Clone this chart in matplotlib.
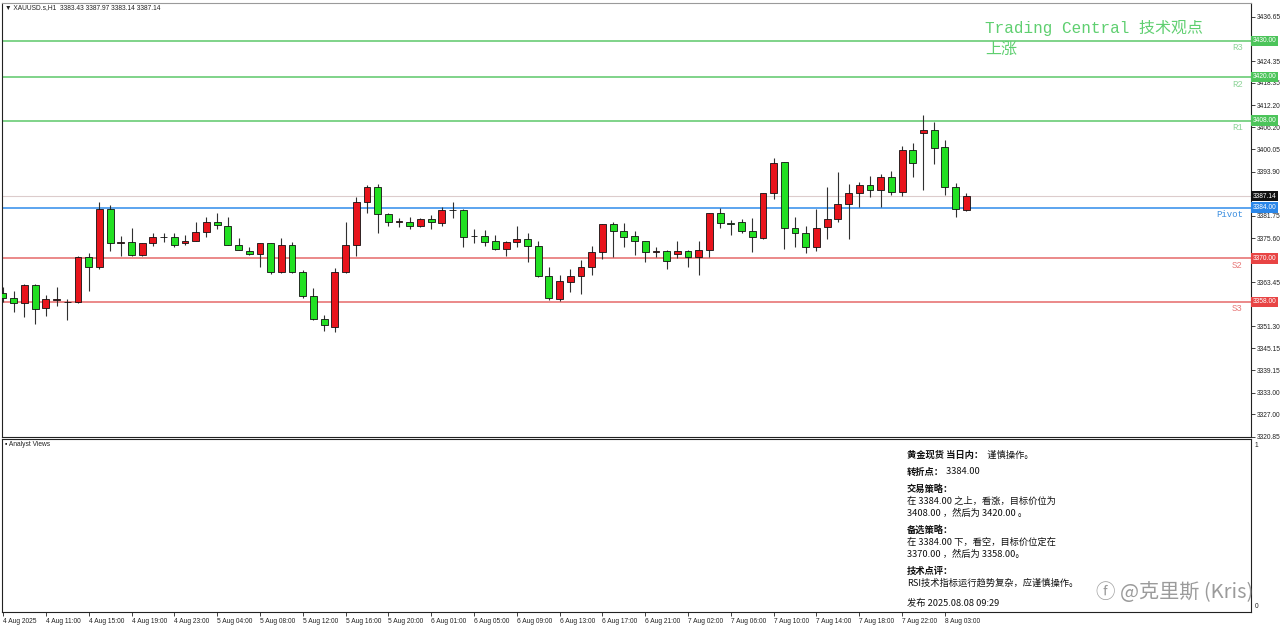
import matplotlib
matplotlib.use('Agg')
import matplotlib.pyplot as plt
import matplotlib.transforms as mtrans

# ---------------- data ----------------
opens = [3360.4, 3359.2, 3357.6, 3362.7, 3356.3, 3358.4, 3358.1, 3357.9, 3370.3, 3367.7,
         3383.6, 3374.2, 3374.5, 3371.0, 3374.2, 3375.8, 3376.0, 3374.3, 3374.9, 3377.4,
         3379.9, 3379.0, 3373.7, 3372.1, 3371.2, 3374.2, 3366.2, 3373.7, 3366.2, 3359.6,
         3353.2, 3351.2, 3366.3, 3373.7, 3385.4, 3389.6, 3382.2, 3380.1, 3380.0, 3379.0,
         3380.9, 3379.7, 3383.4, 3383.3, 3376.1, 3376.3, 3374.8, 3372.5, 3374.4, 3375.3,
         3373.5, 3365.2, 3358.7, 3363.6, 3365.0, 3367.7, 3371.7, 3379.4, 3377.6, 3376.2,
         3374.8, 3371.8, 3371.9, 3371.2, 3372.1, 3370.3, 3372.3, 3382.4, 3379.7, 3379.9,
         3377.6, 3375.7, 3388.1, 3396.5, 3378.3, 3376.9, 3373.1, 3378.6, 3380.8, 3384.9,
         3388.0, 3390.1, 3388.9, 3392.4, 3388.2, 3399.9, 3404.5, 3405.4, 3400.6, 3389.8,
         3383.43]
highs = [3362.2, 3361.1, 3363.0, 3362.9, 3359.9, 3362.0, 3358.7, 3370.7, 3371.6, 3385.6,
         3384.7, 3376.2, 3378.3, 3374.3, 3376.9, 3377.1, 3377.1, 3376.5, 3379.9, 3381.5,
         3382.4, 3381.5, 3375.6, 3373.1, 3374.3, 3374.3, 3375.6, 3374.6, 3366.8, 3361.8,
         3354.4, 3367.3, 3380.1, 3387.0, 3390.3, 3390.5, 3382.6, 3381.2, 3381.3, 3381.1,
         3382.0, 3384.1, 3385.4, 3383.6, 3378.0, 3377.8, 3376.5, 3374.8, 3378.9, 3377.1,
         3374.8, 3367.7, 3365.4, 3367.0, 3369.6, 3373.4, 3379.5, 3380.1, 3379.7, 3377.6,
         3374.9, 3373.2, 3372.3, 3374.9, 3372.2, 3374.9, 3382.5, 3384.0, 3380.6, 3380.8,
         3381.1, 3388.0, 3397.6, 3396.6, 3381.3, 3378.9, 3383.6, 3389.8, 3393.9, 3390.5,
         3391.0, 3392.7, 3393.2, 3394.1, 3401.0, 3401.9, 3409.4, 3407.5, 3402.7, 3390.9,
         3387.97]
lows = [3358.0, 3355.3, 3353.7, 3351.8, 3354.1, 3356.9, 3353.0, 3357.7, 3361.1, 3367.0,
        3372.1, 3370.7, 3370.7, 3370.7, 3373.4, 3374.6, 3373.2, 3373.7, 3374.8, 3375.8,
        3378.0, 3373.6, 3372.2, 3371.0, 3367.6, 3365.7, 3366.1, 3366.1, 3359.0, 3353.1,
        3350.0, 3349.8, 3365.9, 3370.7, 3382.4, 3377.1, 3378.9, 3378.6, 3378.1, 3378.6,
        3378.1, 3378.9, 3381.1, 3373.2, 3374.3, 3373.4, 3372.3, 3370.7, 3373.2, 3369.0,
        3364.8, 3358.5, 3358.3, 3360.8, 3360.2, 3365.4, 3369.8, 3370.3, 3373.0, 3371.0,
        3369.0, 3370.3, 3367.0, 3370.0, 3367.6, 3365.4, 3370.3, 3378.3, 3376.5, 3377.1,
        3371.7, 3375.4, 3386.3, 3372.5, 3373.2, 3371.6, 3371.9, 3375.3, 3380.1, 3375.3,
        3384.1, 3387.0, 3384.1, 3387.5, 3387.3, 3392.5, 3388.9, 3396.0, 3387.5, 3381.3,
        3383.14]
closes = [3359.0, 3357.8, 3362.7, 3356.1, 3358.7, 3358.7, 3358.0, 3370.5, 3367.7, 3383.6,
          3374.2, 3374.6, 3371.0, 3374.2, 3375.8, 3375.9, 3373.7, 3374.9, 3377.4, 3379.9,
          3379.2, 3373.7, 3372.3, 3371.2, 3374.2, 3366.3, 3373.7, 3366.2, 3359.6, 3353.2,
          3351.7, 3366.3, 3373.7, 3385.4, 3389.8, 3382.2, 3380.1, 3380.2, 3379.0, 3380.9,
          3379.9, 3383.4, 3383.3, 3376.0, 3376.2, 3374.6, 3372.5, 3374.5, 3375.3, 3373.5,
          3365.2, 3359.0, 3363.8, 3365.2, 3367.7, 3371.8, 3379.4, 3377.6, 3376.0, 3374.8,
          3371.7, 3371.9, 3369.3, 3372.1, 3370.3, 3372.3, 3382.4, 3379.7, 3379.6, 3377.6,
          3375.8, 3387.9, 3396.2, 3378.3, 3376.9, 3373.1, 3378.3, 3380.8, 3384.9, 3388.0,
          3390.1, 3388.9, 3392.4, 3388.2, 3399.9, 3396.2, 3405.4, 3400.5, 3389.8, 3383.6,
          3387.14]

level_names = ['R3', 'R2', 'R1', 'Pivot', 'S2', 'S3']
level_values = [3430.00, 3420.00, 3408.00, 3384.00, 3370.00, 3358.00]
current_price = 3387.14

price_ticks = [3436.65, 3430.50, 3424.35, 3418.35, 3412.20, 3406.20, 3400.05, 3393.90,
               3387.90, 3381.75, 3375.60, 3369.60, 3363.45, 3357.45, 3351.30, 3345.15,
               3339.15, 3333.00, 3327.00, 3320.85]
# tick labels that sit behind the coloured price boxes in the reference
hidden_tick_labels = [3430.50, 3387.90, 3369.60, 3357.45]

time_labels = ['4 Aug 2025', '4 Aug 11:00', '4 Aug 15:00', '4 Aug 19:00', '4 Aug 23:00',
               '5 Aug 04:00', '5 Aug 08:00', '5 Aug 12:00', '5 Aug 16:00', '5 Aug 20:00',
               '6 Aug 01:00', '6 Aug 05:00', '6 Aug 09:00', '6 Aug 13:00', '6 Aug 17:00',
               '6 Aug 21:00', '7 Aug 02:00', '7 Aug 06:00', '7 Aug 10:00', '7 Aug 14:00',
               '7 Aug 18:00', '7 Aug 22:00', '8 Aug 03:00']
label_step = 4

# ---------------- styling ----------------
CJK = ['Noto Sans CJK SC', 'DejaVu Sans']
MONO = ['Liberation Mono', 'Noto Sans CJK SC', 'DejaVu Sans']
SMALL = ['Liberation Sans', 'DejaVu Sans']
plt.rcParams['font.family'] = SMALL
SMALL_FS = 4.8

level_line_colors = ['#5cc86a', '#5cc86a', '#5cc86a', '#2f8ceb', '#e66a6a', '#e66a6a']
level_box_colors = ['#4cc45a', '#4cc45a', '#4cc45a', '#2a86e8', '#e84444', '#e84444']
level_text_colors = ['#8fd49a', '#8fd49a', '#8fd49a', '#3a8ee0', '#e87878', '#e87878']
bull_color = '#e8141c'
bear_color = '#22e022'

W, H = 1280, 627
fig = plt.figure(figsize=(W / 100, H / 100), dpi=100)
fig.patch.set_facecolor('white')

def ax_rect(x0, y0, x1, y1):
    return [x0 / W, 1 - y1 / H, (x1 - x0) / W, (y1 - y0) / H]

ax = fig.add_axes(ax_rect(2, 3, 1251, 437))
sub = fig.add_axes(ax_rect(2, 439, 1251, 612))

n = len(opens)
xs = list(range(n))
xlim = (-0.1, 116.6)

# wicks
ax.vlines(xs, lows, highs, color='#303030', linewidth=0.8, zorder=3)
# bodies
bottoms = [min(o, c) for o, c in zip(opens, closes)]
heights = [max(abs(c - o), 0.08) for o, c in zip(opens, closes)]
colors = [bull_color if c > o else bear_color for o, c in zip(opens, closes)]
ax.bar(xs, heights, bottom=bottoms, width=0.64, color=colors,
       edgecolor='#111111', linewidth=0.6, zorder=4)

ax.set_xlim(*xlim)
ax.set_ylim(3320.75, 3440.4)

# current price line
ax.axhline(current_price, color='#dccccc', linewidth=0.8, zorder=2)

# level lines
trans = mtrans.blended_transform_factory(ax.transAxes, ax.transData)
for name, val, lc, bc, tc in zip(level_names, level_values, level_line_colors,
                                 level_box_colors, level_text_colors):
    ax.axhline(val, color=lc, linewidth=1.1, zorder=2)
    ax.text(0.9935, val - 0.7, name, transform=trans, ha='right', va='top',
            fontsize=6.5, color=tc, family=MONO, zorder=5)
    ax.text(1.0015, val, f'{val:.2f}', transform=trans, ha='left', va='center',
            fontsize=SMALL_FS, color='white', zorder=6, clip_on=False,
            bbox=dict(boxstyle='square,pad=0.25', facecolor=bc, edgecolor='none'))

ax.text(1.0015, current_price, f'{current_price:.2f}', transform=trans, ha='left',
        va='center', fontsize=SMALL_FS, color='white', zorder=6, clip_on=False,
        bbox=dict(boxstyle='square,pad=0.25', facecolor='#111111', edgecolor='none'))

# price axis
ax.yaxis.tick_right()
ax.set_yticks(price_ticks)
ax.set_yticklabels(['' if t in hidden_tick_labels else f'{t:.2f}' for t in price_ticks])
ax.tick_params(axis='y', direction='out', length=3, width=0.6, labelsize=SMALL_FS,
               pad=1.5, colors='#222222')
ax.tick_params(axis='x', bottom=False, labelbottom=False)
for s in ax.spines.values():
    s.set_color('#222222')
    s.set_linewidth(0.8)
ax.spines['top'].set_color('#9a9a9a')

# header
fig.text(5 / W, 1 - 8 / H, '\u25bc XAUUSD.s,H1  3383.43 3387.97 3383.14 3387.14',
         ha='left', va='center', fontsize=SMALL_FS, color='#222222')

# title
fig.text(985 / W, 1 - 28 / H, 'Trading Central 技术观点', ha='left', va='center',
         fontsize=11.5, color='#5fcf70', family=MONO)
fig.text(985 / W, 1 - 49 / H, '上涨', ha='left', va='center',
         fontsize=11.5, color='#5fcf70', family=MONO)

# ---------------- sub panel ----------------
sub.set_xlim(*xlim)
sub.set_ylim(0, 1)
tick_pos = [i * label_step for i in range(len(time_labels))]
sub.set_xticks(tick_pos)
sub.set_xticklabels(time_labels)
for lab in sub.get_xticklabels():
    lab.set_ha('left')
sub.tick_params(axis='x', direction='out', length=3, width=0.6, labelsize=SMALL_FS,
                pad=1.5, colors='#222222')
sub.tick_params(axis='y', left=False, labelleft=False)
for s in sub.spines.values():
    s.set_color('#222222')
    s.set_linewidth(0.8)
fig.text(5 / W, 1 - 445 / H, '\u25aa Analyst Views', ha='left', va='center',
         fontsize=SMALL_FS, color='#222222')
sub.text(1.003, 0.985, '1', transform=sub.transAxes, ha='left', va='top',
         fontsize=SMALL_FS, color='#222222', clip_on=False)
sub.text(1.003, 0.01, '0', transform=sub.transAxes, ha='left', va='bottom',
         fontsize=SMALL_FS, color='#222222', clip_on=False)

lines = [
    (455, [('黄金现货 当日内：', 'bold'), ('  谨慎操作。', 'normal')]),
    (472, [('转折点：', 'bold'), (' 3384.00', 'normal')]),
    (489, [('交易策略：', 'bold')]),
    (501, [('在 3384.00 之上，看涨，目标价位为', 'normal')]),
    (513, [('3408.00 ，然后为 3420.00 。', 'normal')]),
    (530, [('备选策略：', 'bold')]),
    (542, [('在 3384.00 下，看空，目标价位定在', 'normal')]),
    (554, [('3370.00 ，然后为 3358.00。', 'normal')]),
    (571, [('技术点评：', 'bold')]),
    (583, [('RSI技术指标运行趋势复杂，应谨慎操作。', 'normal')]),
    (603, [('发布 2025.08.08 09:29', 'normal')]),
]
fig.canvas.draw()
renderer = fig.canvas.get_renderer()
for y, parts in lines:
    x = 907
    for txt, wt in parts:
        t = fig.text(x / W, 1 - y / H, txt, ha='left', va='center', fontsize=6.7,
                     color='#111111', family=CJK, fontweight=wt)
        bb = t.get_window_extent(renderer=renderer)
        x += bb.width

fig.text(1095 / W, 1 - 592 / H, 'ⓕ', ha='left', va='center',
         fontsize=14, color='#8a8a8a', alpha=0.85, family=CJK)
fig.text(1120 / W, 1 - 592 / H, '@克里斯 (Kris)', ha='left', va='center',
         fontsize=14.5, color='#8a8a8a', alpha=0.85, family=CJK)

fig.savefig('out.png', dpi=100, facecolor='white')
